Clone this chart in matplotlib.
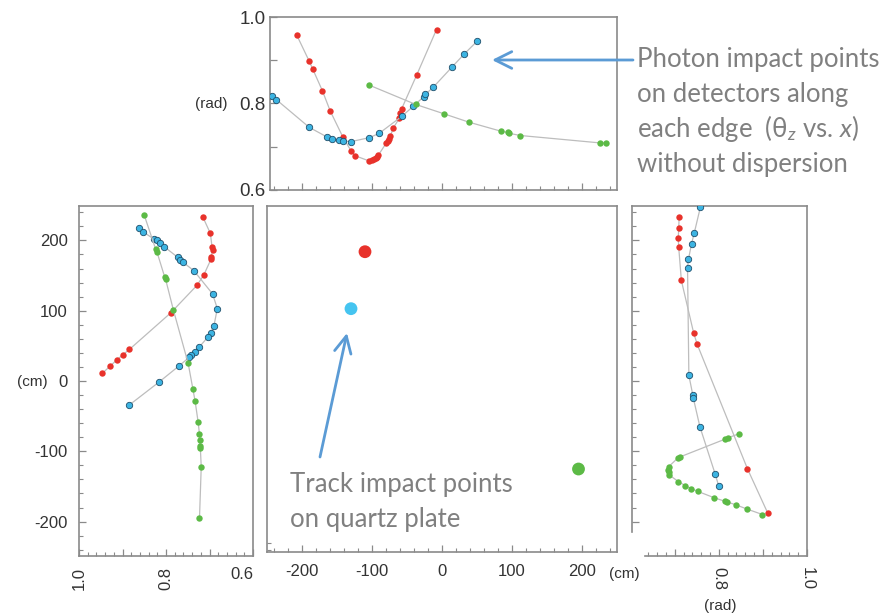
import matplotlib
matplotlib.use("Agg")
import matplotlib.pyplot as plt
from matplotlib.patches import FancyArrowPatch
from matplotlib.ticker import MultipleLocator, FixedLocator

plt.rcParams["font.family"] = ["Liberation Sans", "DejaVu Sans"]
plt.rcParams["axes.unicode_minus"] = False
plt.rcParams["mathtext.fontset"] = "custom"
plt.rcParams["mathtext.rm"] = "Lato"
plt.rcParams["mathtext.it"] = "Lato:italic"

# photon impact points, top edge: theta_z (rad) vs x (cm)
top_red_x = [-208, -190, -185, -171, -160, -142, -130, -124, -104, -100, -97, -95, -93, -91,
             -80, -78, -76, -74, -70, -61, -60, -58, -36, -8]
top_red_t = [0.959, 0.898, 0.880, 0.829, 0.783, 0.723, 0.690, 0.679, 0.667, 0.669, 0.671, 0.674,
             0.677, 0.681, 0.708, 0.713, 0.718, 0.724, 0.743, 0.766, 0.779, 0.787, 0.867, 0.971]
top_blue_x = [-243, -237, -190, -165, -157, -148, -142, -130, -104, -90, -57, -41, -26, -24, -13,
              14, 32, 50]
top_blue_t = [0.818, 0.809, 0.745, 0.723, 0.718, 0.715, 0.713, 0.712, 0.721, 0.731, 0.771, 0.794,
              0.816, 0.821, 0.837, 0.884, 0.915, 0.944]
top_green_x = [-105, -38, 3, 38, 84, 94, 96, 112, 225, 234]
top_green_t = [0.843, 0.798, 0.776, 0.757, 0.736, 0.733, 0.731, 0.726, 0.709, 0.709]

# left edge: theta_z (rad) vs y (cm)
left_red_t = [0.715, 0.698, 0.694, 0.693, 0.696, 0.696, 0.713, 0.729, 0.789, 0.884, 0.900, 0.913,
              0.929, 0.946]
left_red_y = [233, 210, 190, 186, 177, 174, 151, 136, 97, 45, 37, 30, 21, 11]
left_blue_t = [0.862, 0.852, 0.828, 0.821, 0.814, 0.804, 0.773, 0.767, 0.761, 0.736, 0.693, 0.682,
               0.690, 0.697, 0.703, 0.724, 0.734, 0.742, 0.746, 0.769, 0.815, 0.884]
left_blue_y = [218, 212, 202, 200, 196, 191, 176, 172, 169, 157, 124, 103, 78, 69, 63, 48, 41,
               37, 34, 22, -1, -34]
left_green_t = [0.850, 0.824, 0.821, 0.803, 0.801, 0.783, 0.749, 0.738, 0.733, 0.726, 0.723,
                0.722, 0.722, 0.721, 0.719, 0.723]
left_green_y = [236, 188, 184, 148, 145, 101, 25, -12, -29, -59, -76, -84, -92, -96, -122, -195]

# right edge: theta_z (rad) vs y (cm)
right_red_t = [0.710, 0.709, 0.708, 0.709, 0.715, 0.743, 0.751, 0.865, 0.911]
right_red_y = [233, 218, 203, 190, 143, 68, 52, -125, -188]
right_blue_t = [0.758, 0.744, 0.738, 0.731, 0.729, 0.732, 0.741, 0.742, 0.757, 0.792, 0.800]
right_blue_y = [247, 210, 195, 173, 161, 8, -20, -24, -65, -133, -150]
right_green_t = [0.846, 0.820, 0.813, 0.712, 0.708, 0.686, 0.684, 0.687, 0.688, 0.708, 0.724,
                 0.737, 0.752, 0.789, 0.813, 0.818, 0.838, 0.863, 0.899]
right_green_y = [-75, -81, -83, -108, -109, -122, -126, -129, -134, -143, -149, -153, -157, -166,
                 -171, -172, -176, -182, -190]

# track impact points on quartz plate (cm)
track_x = [-110, -130, 195]
track_y = [184, 103, -125]

photon_lines = ["Photon impact points", "on detectors along",
                "each edge  (θ$_z$ vs. $x$)", "without dispersion"]
track_lines = ["Track impact points", "on quartz plate"]

RED = "#e8322b"
BLUE = "#3cb4e2"
GREEN = "#5cba46"
LINE = "#bdbdbd"
SPINE = "#8a8a8a"
TXT = "#808080"
ARROW = "#5b9bd5"

W, H = 894, 613


def rect(x0, y0, x1, y1):
    return [x0 / W, 1 - y1 / H, (x1 - x0) / W, (y1 - y0) / H]


def style(ax):
    for s in ax.spines.values():
        s.set_color(SPINE)
        s.set_linewidth(1.2)
    ax.tick_params(which="both", direction="in", color=SPINE, labelcolor="#333333",
                   labelsize=12, top=False, right=False)
    ax.tick_params(which="major", length=5, width=0.9)
    ax.tick_params(which="minor", length=3, width=0.8)


def track(ax, x, y, color, edge=None):
    ax.plot(x, y, color=LINE, lw=0.9, marker="o", ms=4.6, mfc=color,
            mec=edge or color, mew=0.6 if edge else 0, zorder=3)


def unit(x, y, s, ha="center"):
    fig.text(x / W, 1 - y / H, s, ha=ha, va="center", fontsize=11, color="#333333")


fig = plt.figure(figsize=(8.94, 6.13), dpi=100)

# top edge
ax = fig.add_axes(rect(270, 17, 617, 190))
style(ax)
track(ax, top_red_x, top_red_t, RED)
track(ax, top_blue_x, top_blue_t, BLUE, "#1f4f6b")
track(ax, top_green_x, top_green_t, GREEN)
ax.set_xlim(-246, 250)
ax.set_ylim(0.6, 1.0)
ax.xaxis.set_major_locator(MultipleLocator(100))
ax.xaxis.set_minor_locator(MultipleLocator(20))
ax.set_xticklabels([])
ax.set_yticks([0.6, 0.7, 0.8, 0.9, 1.0])
ax.set_yticklabels(["0.6", "", "0.8", "", "1.0"], fontsize=13.5)
ax.tick_params(axis="y", pad=3)
unit(211, 104, "(rad)")

# quartz plate
ax = fig.add_axes(rect(267, 206, 617, 552))
style(ax)
ax.scatter(track_x, track_y, s=85, c=[RED, "#45c4f0", GREEN], linewidths=0, zorder=3)
ax.set_xlim(-250, 250)
ax.set_ylim(-243, 249)
ax.xaxis.set_major_locator(MultipleLocator(100))
ax.xaxis.set_minor_locator(MultipleLocator(20))
ax.yaxis.set_major_locator(FixedLocator([]))
ax.yaxis.set_minor_locator(FixedLocator([-240, -230]))
ax.tick_params(axis="x", pad=9)
unit(609, 574, "(cm)", ha="left")

# left edge
ax = fig.add_axes(rect(79, 206, 253, 556))
style(ax)
track(ax, left_red_t, left_red_y, RED)
track(ax, left_blue_t, left_blue_y, BLUE, "#1f4f6b")
track(ax, left_green_t, left_green_y, GREEN)
ax.set_xlim(1.0, 0.6)
ax.set_ylim(-249, 249)
ax.yaxis.set_major_locator(MultipleLocator(100))
ax.yaxis.set_minor_locator(MultipleLocator(20))
ax.set_xticks([0.6, 0.7, 0.8, 0.9, 1.0])
ax.set_xticklabels(["0.6", "", "0.8", "", "1.0"])
ax.xaxis.set_minor_locator(MultipleLocator(0.02))
for lab in ax.get_xticklabels():
    if lab.get_text() in ("1.0", "0.8"):
        lab.set_rotation(90)
    elif lab.get_text() == "0.6":
        lab.set_ha("right")
ax.tick_params(axis="x", pad=8)
ax.tick_params(axis="y", pad=8)
unit(32, 382, "(cm)")

# right edge
ax = fig.add_axes(rect(632, 206, 807, 556))
style(ax)
track(ax, right_red_t, right_red_y, RED)
track(ax, right_blue_t, right_blue_y, BLUE, "#1f4f6b")
track(ax, right_green_t, right_green_y, GREEN)
ax.set_xlim(0.603, 1.0)
ax.set_ylim(-249, 249)
ax.spines["left"].set_bounds(-215, 249)
ax.spines["bottom"].set_bounds(0.632, 1.0)
ax.yaxis.set_major_locator(FixedLocator([-200, -100, 0, 100, 200]))
ax.yaxis.set_minor_locator(FixedLocator(list(range(-180, 250, 20))))
ax.set_yticklabels([])
ax.set_xticks([0.7, 0.8, 0.9, 1.0])
ax.set_xticklabels(["", "0.8", "", "1.0"], rotation=270)
ax.xaxis.set_minor_locator(FixedLocator([0.64 + 0.02 * i for i in range(19)]))
ax.tick_params(axis="x", pad=8)
unit(720, 606, "(rad)")

# annotations
ann = dict(color=TXT, fontsize=18.5, family=["Lato", "DejaVu Sans"], ha="left", va="baseline")
for i, s in enumerate(photon_lines):
    fig.text(637 / W, 1 - (67 + 35 * i) / H, s, **ann)
for i, s in enumerate(track_lines):
    fig.text(290 / W, 1 - (492 + 35 * i) / H, s, **ann)

for tail, head in [((633, 60), (492, 60)), ((320, 457), (347, 333))]:
    fig.add_artist(FancyArrowPatch((tail[0] / W, 1 - tail[1] / H), (head[0] / W, 1 - head[1] / H),
                                   transform=fig.transFigure, color=ARROW, lw=2,
                                   arrowstyle="->,head_length=1.2,head_width=0.6",
                                   mutation_scale=10, shrinkA=0, shrinkB=0))

fig.savefig("out.png", dpi=100)
